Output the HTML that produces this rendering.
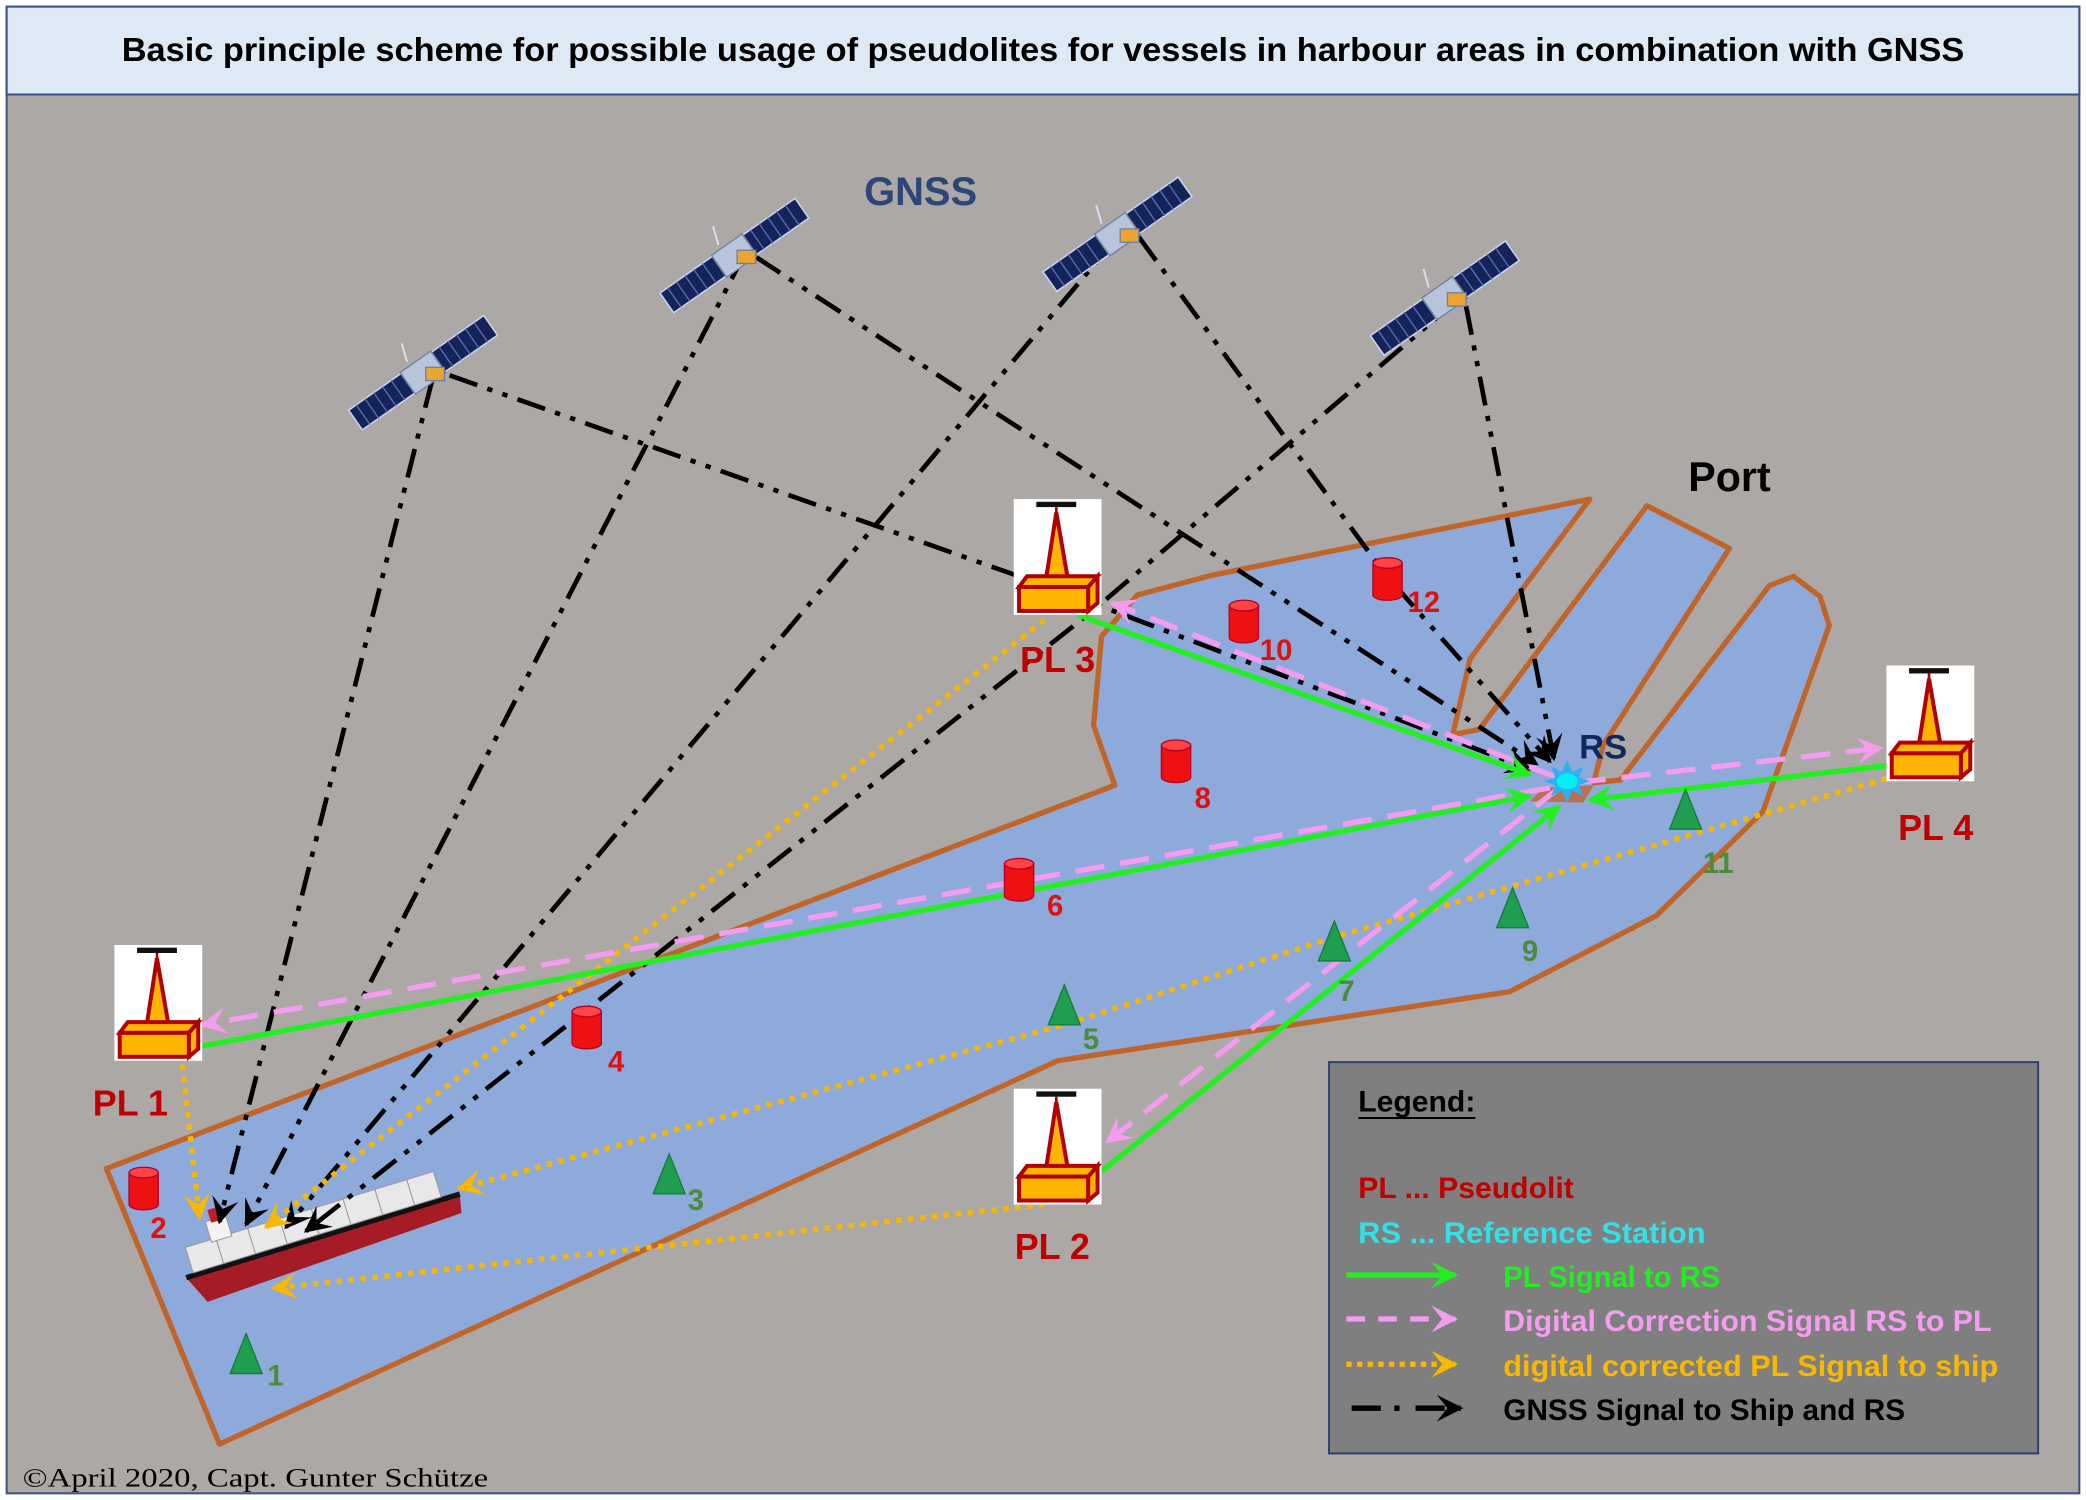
<!DOCTYPE html>
<html><head><meta charset="utf-8"><style>
html,body{margin:0;padding:0;background:#fff;}
svg{display:block;}
</style></head><body>
<svg width="2086" height="1500" viewBox="0 0 1568 1127" preserveAspectRatio="none" xmlns="http://www.w3.org/2000/svg">
<defs>
  <marker id="ag" viewBox="0 0 10 10" markerWidth="26" markerHeight="20" refX="9" refY="5" orient="auto" markerUnits="userSpaceOnUse">
    <path d="M0,0 L10,5 L0,10 L4,5 Z" fill="#22ee22"/></marker>
  <marker id="ap" viewBox="0 0 10 10" markerWidth="26" markerHeight="20" refX="9" refY="5" orient="auto" markerUnits="userSpaceOnUse">
    <path d="M0,0 L10,5 L0,10 L4,5 Z" fill="#f49cf0"/></marker>
  <marker id="ao" viewBox="0 0 10 10" markerWidth="26" markerHeight="20" refX="9" refY="5" orient="auto" markerUnits="userSpaceOnUse">
    <path d="M0,0 L10,5 L0,10 L4,5 Z" fill="#f8b800"/></marker>
  <marker id="ak" viewBox="0 0 10 10" markerWidth="26" markerHeight="20" refX="9" refY="5" orient="auto" markerUnits="userSpaceOnUse">
    <path d="M0,0 L10,5 L0,10 L4,5 Z" fill="#000"/></marker>
  <g id="pl">
    <rect x="0" y="0" width="66" height="87" fill="#fff"/>
    <rect x="17" y="2" width="30" height="4" fill="#111"/>
    <line x1="32" y1="6" x2="32" y2="14" stroke="#b00000" stroke-width="2"/>
    <path d="M32,10 L24,62 L41,62 Z" fill="#ffb400" stroke="#b00000" stroke-width="3"/>
    <path d="M4,66 L10,58 L63,58 L56,66 Z" fill="#ffb400" stroke="#b00000" stroke-width="3"/>
    <rect x="4" y="66" width="52" height="18" fill="#ffb400" stroke="#b00000" stroke-width="3"/>
    <path d="M56,66 L63,58 L63,78 L56,84 Z" fill="#ffb400" stroke="#b00000" stroke-width="3"/>
  </g>
  <g id="buoy">
    <path d="M-11,-12 L-11,12 A11,4 0 0 0 11,12 L11,-12 Z" fill="#ee1111" stroke="#b8002a" stroke-width="1"/>
    <ellipse cx="0" cy="-12" rx="11" ry="4" fill="#ff4444" stroke="#b8002a" stroke-width="1"/>
  </g>
  <g id="tri"><path d="M0,-16 L-12,14 L12,14 Z" fill="#1e9e4e" stroke="#157a3a" stroke-width="1"/></g>
  <g id="sat">
    <g transform="rotate(-35)">
      <rect x="-62" y="-9" width="48" height="18" fill="#14245a" stroke="#c8d4ec" stroke-width="1.2"/>
      <rect x="14" y="-9" width="48" height="18" fill="#14245a" stroke="#c8d4ec" stroke-width="1.2"/>
      <path d="M-55,-9 V9 M-47,-9 V9 M-39,-9 V9 M-31,-9 V9 M-23,-9 V9 M21,-9 V9 M29,-9 V9 M37,-9 V9 M45,-9 V9 M53,-9 V9" stroke="#5a6fae" stroke-width="1"/>
      <rect x="-14" y="-10" width="28" height="20" fill="#b8c4dc" stroke="#7080a0"/>
    </g>
    <rect x="2" y="-4" width="14" height="10" fill="#e9a431" stroke="#7080a0"/>
    <line x1="-12" y1="-8" x2="-16" y2="-22" stroke="#dde" stroke-width="1.5"/>
  </g>
</defs>

<rect x="0" y="0" width="1568" height="1127" fill="#fff"/>
<rect x="5" y="5" width="1558" height="1117" fill="#aca8a6" stroke="#3b4f80" stroke-width="1.5"/>
<rect x="5" y="5" width="1558" height="66" fill="#dde9f5" stroke="#3b4f80" stroke-width="1.5"/>
<text x="784" y="46" text-anchor="middle" font-family="Liberation Sans, sans-serif" font-weight="bold" font-size="25" textLength="1385" lengthAdjust="spacingAndGlyphs" fill="#000">Basic principle scheme for possible usage of pseudolites for vessels in harbour areas in combination with GNSS</text>

<path d="M80,878 L838,590 L822,545 L828,478 L855,447 L912,432 L1195,375 L1105,495 L1092,552 L1112,548 L1238,380 L1300,412 L1205,560 L1198,588 L1218,586 L1330,440 L1348,433 L1368,448 L1375,470 L1325,610 L1245,688 L1135,745 L795,797 L165,1085 Z" fill="#8eaadb" stroke="#c0652a" stroke-width="4" stroke-linejoin="round"/>
<path d="M1150,602 L1160,592 L1198,590 L1190,603 Z" fill="#c0652a" opacity="0.8"/>

<text x="692" y="154" text-anchor="middle" font-family="Liberation Sans, sans-serif" font-weight="bold" font-size="30" fill="#2c4677">GNSS</text>
<text x="1300" y="369" text-anchor="middle" font-family="Liberation Sans, sans-serif" font-weight="bold" font-size="31" fill="#000">Port</text>

<g transform="translate(140,960) rotate(-17)">
  <path d="M0,0 L215,0 L212,14 L10,22 Z" fill="#a51c26"/>
  <rect x="0" y="-2" width="215" height="4" fill="#111"/>
  <rect x="6" y="-22" width="195" height="20" fill="#e8e8ea" stroke="#9a9a9a" stroke-width="0.8"/>
  <path d="M30,-22 V-2 M55,-22 V-2 M80,-22 V-2 M105,-22 V-2 M130,-22 V-2 M155,-22 V-2 M180,-22 V-2" stroke="#999" stroke-width="0.8"/>
  <rect x="26" y="-36" width="16" height="16" fill="#f2f2f2" stroke="#999" stroke-width="0.8"/>
  <rect x="30" y="-44" width="6" height="10" fill="#c02020"/>
</g>

<g fill="none" stroke="#000" stroke-width="3.5" stroke-dasharray="22,8,4,8,4,8" marker-end="url(#ak)">
  <path d="M325,285 L165,918"/>
  <path d="M338,282 L800,445 L1150,578"/>
  <path d="M560,190 L185,920"/>
  <path d="M568,193 L1155,574"/>
  <path d="M845,172 L215,922"/>
  <path d="M856,178 L1040,430 L1165,572"/>
  <path d="M1095,226 L820,460 L230,925"/>
  <path d="M1102,230 L1168,570"/>
</g>

<use href="#sat" transform="translate(318,280)"/>
<use href="#sat" transform="translate(552,192)"/>
<use href="#sat" transform="translate(840,176)"/>
<use href="#sat" transform="translate(1086,224)"/>

<g fill="none" stroke="#f8b800" stroke-width="4" stroke-dasharray="4,5" marker-end="url(#ao)">
  <path d="M137,800 L150,915"/>
  <path d="M785,466 L200,922"/>
  <path d="M785,905 L205,968"/>
  <path d="M1418,585 L1000,705 L800,770 L345,893"/>
</g>

<g fill="none" stroke="#f49cf0" stroke-width="4" stroke-dasharray="22,12" marker-end="url(#ap)">
  <path d="M1170,584 L836,453"/>
  <path d="M1165,592 L152,770"/>
  <path d="M1172,592 L832,858"/>
  <path d="M1185,588 L1414,562"/>
</g>

<g fill="none" stroke="#22ee22" stroke-width="4" marker-end="url(#ag)">
  <path d="M810,462 L1150,582"/>
  <path d="M152,786 L1150,598"/>
  <path d="M828,880 L1172,606"/>
  <path d="M1420,575 L1195,601"/>
</g>

<g transform="translate(1178,587)">
  <path d="M0,-16 L4,-7 L12,-11 L9,-3 L17,0 L9,3 L12,11 L4,7 L0,16 L-4,7 L-12,11 L-9,3 L-17,0 L-9,-3 L-12,-11 L-4,-7 Z" fill="#30b0f0"/>
  <ellipse cx="0" cy="0" rx="8" ry="6" fill="#00f0f8"/>
</g>
<text x="1187" y="570" font-family="Liberation Sans, sans-serif" font-weight="bold" font-size="26" fill="#10285e">RS</text>

<use href="#pl" transform="translate(762,375)"/>
<use href="#pl" transform="translate(86,710)"/>
<use href="#pl" transform="translate(762,818)"/>
<use href="#pl" transform="translate(1418,500)"/>
<g font-family="Liberation Sans, sans-serif" font-weight="bold" font-size="27" fill="#c00000" text-anchor="middle">
  <text x="795" y="505">PL 3</text>
  <text x="98" y="838">PL 1</text>
  <text x="791" y="946">PL 2</text>
  <text x="1455" y="631">PL 4</text>
</g>

<use href="#buoy" transform="translate(108,893)"/>
<use href="#buoy" transform="translate(441,772)"/>
<use href="#buoy" transform="translate(766,661)"/>
<use href="#buoy" transform="translate(884,572)"/>
<use href="#buoy" transform="translate(935,467)"/>
<use href="#buoy" transform="translate(1043,435)"/>
<g font-family="Liberation Sans, sans-serif" font-weight="bold" font-size="22" fill="#e01010">
  <text x="113" y="930">2</text>
  <text x="457" y="805">4</text>
  <text x="787" y="688">6</text>
  <text x="898" y="607">8</text>
  <text x="947" y="496">10</text>
  <text x="1058" y="460">12</text>
</g>

<use href="#tri" transform="translate(185,1018)"/>
<use href="#tri" transform="translate(503,883)"/>
<use href="#tri" transform="translate(800,756)"/>
<use href="#tri" transform="translate(1003,708)"/>
<use href="#tri" transform="translate(1137,683)"/>
<use href="#tri" transform="translate(1267,609)"/>
<g font-family="Liberation Sans, sans-serif" font-weight="bold" font-size="22" fill="#4c8a3c">
  <text x="201" y="1041">1</text>
  <text x="517" y="909">3</text>
  <text x="814" y="788">5</text>
  <text x="1006" y="752">7</text>
  <text x="1144" y="722">9</text>
  <text x="1280" y="656">11</text>
</g>

<rect x="999" y="798" width="533" height="294" fill="#7f7f7f" stroke="#2f3f6f" stroke-width="1.5"/>
<g font-family="Liberation Sans, sans-serif" font-weight="bold" font-size="22">
  <text x="1021" y="835" fill="#000" textLength="88" lengthAdjust="spacingAndGlyphs">Legend:</text>
  <line x1="1021" y1="840" x2="1109" y2="840" stroke="#000" stroke-width="1.5"/>
  <text x="1021" y="900" fill="#c00000" textLength="162" lengthAdjust="spacingAndGlyphs">PL ... Pseudolit</text>
  <text x="1021" y="934" fill="#33e0e8" textLength="261" lengthAdjust="spacingAndGlyphs">RS ... Reference Station</text>
  <text x="1130" y="967" fill="#22ee22" textLength="163" lengthAdjust="spacingAndGlyphs">PL Signal to RS</text>
  <text x="1130" y="1000" fill="#f49cf0" textLength="367" lengthAdjust="spacingAndGlyphs">Digital Correction Signal RS to PL</text>
  <text x="1130" y="1034" fill="#f8b800" textLength="372" lengthAdjust="spacingAndGlyphs">digital corrected PL Signal to ship</text>
  <text x="1130" y="1067" fill="#000" textLength="302" lengthAdjust="spacingAndGlyphs">GNSS Signal to Ship and RS</text>
</g>
<line x1="1012" y1="958" x2="1094" y2="958" stroke="#22ee22" stroke-width="4" marker-end="url(#ag)"/>
<line x1="1012" y1="991" x2="1094" y2="991" stroke="#f49cf0" stroke-width="4" stroke-dasharray="14,10" marker-end="url(#ap)"/>
<line x1="1012" y1="1025" x2="1094" y2="1025" stroke="#f8b800" stroke-width="4" stroke-dasharray="4,4" marker-end="url(#ao)"/>
<line x1="1016" y1="1058" x2="1098" y2="1058" stroke="#000" stroke-width="4" stroke-dasharray="22,10,4,12" marker-end="url(#ak)"/>

<text x="17" y="1117" font-family="Liberation Serif, serif" font-size="20" fill="#000" textLength="350" lengthAdjust="spacingAndGlyphs">©April 2020, Capt. Gunter Schütze</text>
</svg>
</body></html>
